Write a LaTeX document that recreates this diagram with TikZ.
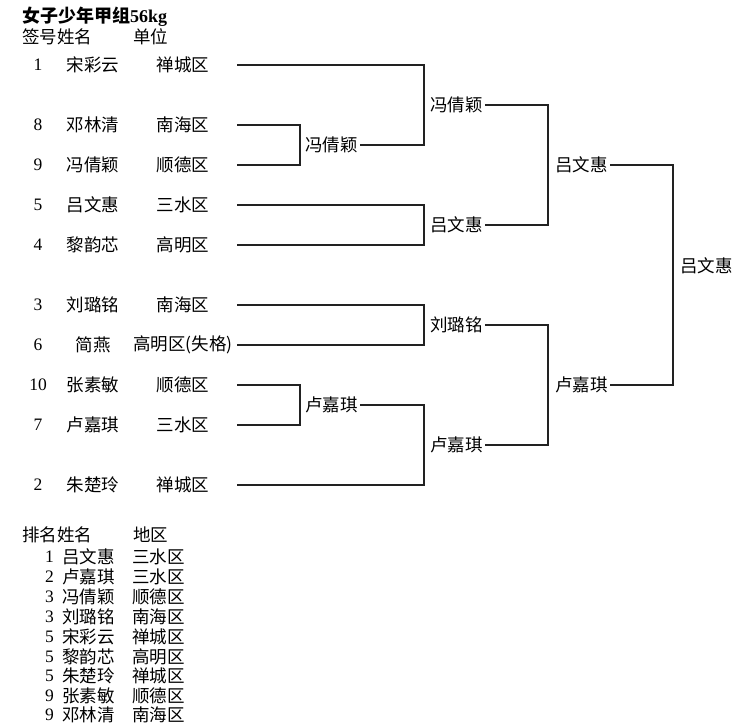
\documentclass[tikz,border=0pt]{standalone}
\usepackage{fontspec}
\setmainfont{Liberation Serif}
\newfontfamily\cjk{Noto Sans CJK SC}
\usetikzlibrary{positioning, calc}
\definecolor{bracketgray}{RGB}{34, 34, 34}

\begin{document}
\begin{tikzpicture}[x=1pt, y=-1pt,
    txt/.style={font=\cjk\fontsize{17.5}{20}\selectfont, inner sep=0pt},
    num/.style={font=\fontsize{17.5}{20}\selectfont, inner sep=0pt},
    unit/.style={txt, minimum width=108pt},
    win/.style={txt, anchor=west, inner sep=2pt},
    bracket/.style={bracketgray, line width=1.3pt}]
      \useasboundingbox (0,0) rectangle (738,727);

      \node[txt, anchor=west, font=\cjk\bfseries\fontsize{18}{20}\selectfont] (title) at (22,17) {女子少年甲组\textrm{56kg}};
      \node[txt, anchor=west] (hnum) at (22,37) {签号姓名};
      \node[txt, anchor=west] (hunit) at (133,37) {单位};

      \foreach \n/\nm/\un/\y in {1/宋彩云/禅城区/65, 8/邓林清/南海区/125, 9/冯倩颖/顺德区/165,
                                  5/吕文惠/三水区/205, 4/黎韵芯/高明区/245, 3/刘璐铭/南海区/305,
                                  6/简燕/高明区(失格)/345, 10/张素敏/顺德区/385, 7/卢嘉琪/三水区/425,
                                  2/朱楚玲/禅城区/485} {
        \node[num] (n\n) at (38,\y) {\n};
        \node[txt] (m\n) at (93,\y) {\nm};
        \node[unit] (u\n) at (183,\y) {\un};
      }

      \coordinate (c1) at (300,0);
      \coordinate (c2) at (424,0);
      \coordinate (c3) at (548,0);
      \coordinate (c4) at (673,0);

      \node[win] (q1) at (303,145) {冯倩颖};
      \node[win] (q2) at (303,405) {卢嘉琪};
      \node[win] (s1) at (428,105) {冯倩颖};
      \node[win] (s2) at (428,225) {吕文惠};
      \node[win] (s3) at (428,325) {刘璐铭};
      \node[win] (s4) at (428,445) {卢嘉琪};
      \node[win] (t1) at (553,165) {吕文惠};
      \node[win] (t2) at (553,385) {卢嘉琪};
      \node[win] (f) at (678,266) {吕文惠};

      \draw[bracket] (u8.east) -| (c1 |- u9.east) -- (u9.east);
      \draw[bracket] (q1.east) -| (c2 |- u1.east) -- (u1.east);
      \draw[bracket] (u5.east) -| (c2 |- u4.east) -- (u4.east);
      \draw[bracket] (s1.east) -| (c3 |- s2.east) -- (s2.east);
      \draw[bracket] (u3.east) -| (c2 |- u6.east) -- (u6.east);
      \draw[bracket] (u10.east) -| (c1 |- u7.east) -- (u7.east);
      \draw[bracket] (q2.east) -| (c2 |- u2.east) -- (u2.east);
      \draw[bracket] (s3.east) -| (c3 |- s4.east) -- (s4.east);
      \draw[bracket] (t1.east) -| (c4 |- t2.east) -- (t2.east);

      \node[txt, anchor=west] (hrank) at (22,535) {排名姓名};
      \node[txt, anchor=west] (harea) at (133,535) {地区};
      \foreach \i/\rk/\nm/\rg/\y in {1/1/吕文惠/三水区/557, 2/2/卢嘉琪/三水区/577, 3/3/冯倩颖/顺德区/597,
                                     4/3/刘璐铭/南海区/617, 5/5/宋彩云/禅城区/637, 6/5/黎韵芯/高明区/657,
                                     7/5/朱楚玲/禅城区/676, 8/9/张素敏/顺德区/696, 9/9/邓林清/南海区/715} {
        \node[num, anchor=east] (r\i) at (54,\y) {\rk};
        \node[txt, anchor=west] (rn\i) at (62,\y) {\nm};
        \node[txt, anchor=west] (ra\i) at (132,\y) {\rg};
      }
\end{tikzpicture}
\end{document}
